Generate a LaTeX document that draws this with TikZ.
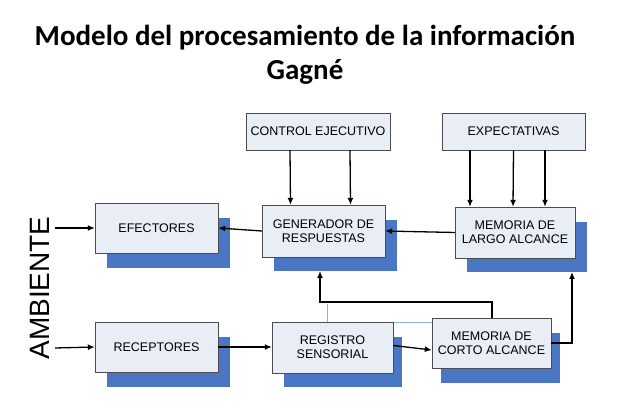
\documentclass[tikz,border=0pt]{standalone}
\usepackage{fontspec}
\setmainfont{Liberation Sans}
\newfontfamily\titlefont{Carlito}
\begin{document}
\begin{tikzpicture}[x=1pt,y=-1pt,
  boxn/.style={draw=black!70,fill=boxfill,inner sep=0pt,align=center,font=\fontsize{12.5}{14}\selectfont},
  shd/.style={fill=shadowblue,draw=none},
  arr/.style={-{Latex[length=7pt,width=6pt]},line width=1.3pt,black}]
\usetikzlibrary{arrows.meta}
\definecolor{boxfill}{HTML}{E8EDF6}
\definecolor{shadowblue}{HTML}{4A76C4}
\definecolor{lightline}{HTML}{8FB0D8}
\useasboundingbox (0,0) rectangle (640,411);
\node[font=\titlefont\bfseries\fontsize{29}{32}\selectfont] (t1) at (305,38) {Modelo del procesamiento de la información};
\node[font=\titlefont\bfseries\fontsize{29}{32}\selectfont] (t2) at (305,72) {Gagné};
% shadows
\fill[shd] (107,218) rectangle (230,268);
\fill[shd] (274,220) rectangle (397,271);
\fill[shd] (467,222) rectangle (587,272);
\fill[shd] (107,337) rectangle (230,387);
\fill[shd] (284,337) rectangle (402,387);
\fill[shd] (441,333) rectangle (560,383);
% light line
\draw[lightline,thick] (327,322) -- (327,304);
\draw[lightline,thick] (327,322) -- (432,322);
% boxes
\node[boxn,minimum width=144,minimum height=37] (ce) at (318,131.5) {CONTROL EJECUTIVO};
\node[boxn,minimum width=143,minimum height=37] (ex) at (513.5,131.5) {EXPECTATIVAS};
\node[boxn,minimum width=123,minimum height=50] (ef) at (156.5,228) {EFECTORES};
\node[boxn,minimum width=123,minimum height=52] (ge) at (323.5,231) {GENERADOR DE\\RESPUESTAS};
\node[boxn,minimum width=120,minimum height=51] (ml) at (515,232.5) {MEMORIA DE\\LARGO ALCANCE};
\node[boxn,minimum width=123,minimum height=50] (re) at (156.5,347) {RECEPTORES};
\node[boxn,minimum width=121,minimum height=51] (rs) at (332.5,347.5) {REGISTRO\\SENSORIAL};
\node[boxn,minimum width=119,minimum height=50] (mc) at (491.5,343) {MEMORIA DE\\CORTO ALCANCE};
\node[rotate=90,font=\fontsize{28}{30}\selectfont] (amb) at (40,288) {AMBIENTE};
\coordinate (a1) at (55,228);
\coordinate (a2) at (55,348);
% arrows
\draw[arr] ([xshift=-28]ce.south) -- ([xshift=-33]ge.north);
\draw[arr] ([xshift=32]ce.south) -- ([xshift=27]ge.north);
\draw[arr] ([xshift=-43.5]ex.south) -- ([xshift=-45]ml.north);
\draw[arr] (ex.south) -- ([xshift=-2]ml.north);
\draw[arr] ([xshift=31.5]ex.south) -- ([xshift=30]ml.north);
\draw[arr] (ml.west) -- (ge.east);
\draw[arr] (ge.west) -- (ef.east);
\draw[arr] (a1) -- (ef.west);
\draw[arr] (a2) -- (re.west);
\draw[arr] (re.east) -- (rs.west|-re.east);
\draw[arr] ([yshift=2]rs.east) -- (mc.west|-0,350);
\draw[arr] (mc.east) -| (572,272);
\draw[arr] (492,318) |- (320,302) -- (320,271);
\end{tikzpicture}
\end{document}
